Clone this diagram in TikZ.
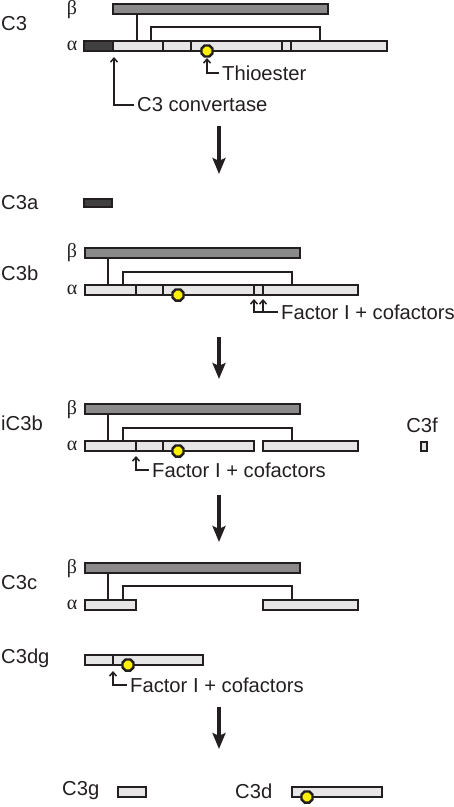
\documentclass[tikz,border=0pt]{standalone}
\usepackage{fontspec}
\setmainfont{Liberation Sans}
\newfontfamily\grkfont{Liberation Serif}
\usetikzlibrary{arrows.meta,shapes.geometric}

\definecolor{ink}{HTML}{231F20}
\definecolor{betagray}{HTML}{8A8A8A}
\definecolor{alphagray}{HTML}{E6E6E6}
\definecolor{cutgray}{HTML}{404040}

\tikzset{
  bbar/.style={draw=ink,line width=2.6pt,fill=betagray},
  abar/.style={draw=ink,line width=2.6pt,fill=alphagray},
  cbar/.style={draw=ink,line width=2.6pt,fill=cutgray},
  link/.style={draw=ink,line width=2.6pt},
  divider/.style={draw=ink,line width=2pt},
  note/.style={draw=ink,line width=1.5pt,-{Straight Barb[length=4pt,width=7pt]}},
  steparrow/.style={draw=ink,line width=3.4pt,-{Stealth[length=16pt,width=13pt,inset=3pt]}},
  thio/.style={regular polygon,regular polygon sides=8,minimum size=12pt,inner sep=0pt,
    draw=ink,line width=2.4pt,fill=yellow},
  lbl/.style={font=\fontsize{20.2}{24}\selectfont,inner sep=0pt,anchor=west,text=ink},
  notelbl/.style={lbl,inner xsep=3pt},
  grk/.style={font=\grkfont\fontsize{20}{23}\selectfont,inner sep=0pt,text=ink}
}

\begin{document}
\begin{tikzpicture}[x=1pt,y=-1pt]
  \useasboundingbox (0,0) rectangle (454,807);

  % C3
  \node[lbl] (c3) at (1,24) {C3};
  \node[grk] (c3beta) at (72,10) {β};
  \node[grk] (c3alpha) at (72,46) {α};
  \draw[link] (137,14) -- (137,41);
  \draw[link] (151,41) -- (151,27) -- (320,27) -- (320,41);
  \draw[bbar] (113,4) rectangle (328,14);
  \draw[abar] (84,41) rectangle (387,51);
  \draw[cbar] (84,41) rectangle (113,51);
  \foreach \x in {163,191,282,291}
    \draw[divider] (\x,41) -- (\x,51);
  \node[thio] (c3dot) at (207,51) {};
  \coordinate (c3tip) at (207,58);
  \node[notelbl] (thioester) at (219,73) {Thioester};
  \draw[note] (thioester.west) -| (c3tip);
  \coordinate (convtip) at (114,57);
  \node[notelbl] (convertase) at (134,105) {C3 convertase};
  \draw[note] (convertase.west) -| (convtip);

  \coordinate (s1a) at (219,126);
  \coordinate (s1b) at (219,174);
  \draw[steparrow] (s1a) -- (s1b);

  % C3a
  \node[lbl] (c3a) at (1,203) {C3a};
  \draw[cbar] (84,199) rectangle (112,207);

  % C3b
  \node[lbl] (c3b) at (1,273) {C3b};
  \node[grk] (c3bbeta) at (72,253) {β};
  \node[grk] (c3balpha) at (72,290) {α};
  \draw[link] (108,258) -- (108,285);
  \draw[link] (123,285) -- (123,272) -- (292,272) -- (292,285);
  \draw[bbar] (85,248) rectangle (300,258);
  \draw[abar] (85,285) rectangle (358,295);
  \foreach \x in {136,163,254,263}
    \draw[divider] (\x,285) -- (\x,295);
  \node[thio] (c3bdot) at (178,295) {};
  \coordinate (c3bt1) at (254,299);
  \coordinate (c3bt2) at (263,299);
  \node[notelbl] (facb) at (278,312) {Factor I + cofactors};
  \draw[note] (facb.west) -| (c3bt2);
  \draw[note] (c3bt2 |- facb.west) -| (c3bt1);

  \coordinate (s2a) at (219,337);
  \coordinate (s2b) at (219,379);
  \draw[steparrow] (s2a) -- (s2b);

  % iC3b
  \node[lbl] (ic3b) at (1,423) {iC3b};
  \node[grk] (ic3bbeta) at (72,410) {β};
  \node[grk] (ic3balpha) at (72,446) {α};
  \draw[link] (108,414) -- (108,441);
  \draw[link] (123,441) -- (123,428) -- (292,428) -- (292,441);
  \draw[bbar] (85,404) rectangle (300,414);
  \draw[abar] (85,441) rectangle (254,451);
  \draw[abar] (263,441) rectangle (358,451);
  \foreach \x in {136,163}
    \draw[divider] (\x,441) -- (\x,451);
  \node[thio] (ic3bdot) at (178,451) {};
  \coordinate (ic3btip) at (136,456);
  \node[notelbl] (faci) at (149,470) {Factor I + cofactors};
  \draw[note] (faci.west) -| (ic3btip);

  % C3f
  \node[lbl,anchor=center] (c3f) at (422,425) {C3f};
  \draw[abar] (421,442) rectangle (427,451);

  \coordinate (s3a) at (219,495);
  \coordinate (s3b) at (219,542);
  \draw[steparrow] (s3a) -- (s3b);

  % C3c
  \node[lbl] (c3c) at (1,583) {C3c};
  \node[grk] (c3cbeta) at (72,569) {β};
  \node[grk] (c3calpha) at (72,605) {α};
  \draw[link] (108,573) -- (108,600);
  \draw[link] (123,600) -- (123,586) -- (292,586) -- (292,600);
  \draw[bbar] (85,563) rectangle (300,573);
  \draw[abar] (85,600) rectangle (136,610);
  \draw[abar] (263,600) rectangle (358,610);

  % C3dg
  \node[lbl] (c3dg) at (1,658) {C3dg};
  \draw[abar] (85,655) rectangle (203,665);
  \draw[divider] (113,655) -- (113,665);
  \node[thio] (c3dgdot) at (128,665) {};
  \coordinate (c3dgtip) at (113,671);
  \node[notelbl] (facdg) at (127,685) {Factor I + cofactors};
  \draw[note] (facdg.west) -| (c3dgtip);

  \coordinate (s4a) at (219,707);
  \coordinate (s4b) at (219,749);
  \draw[steparrow] (s4a) -- (s4b);

  % C3g and C3d
  \node[lbl] (c3g) at (62,791) {C3g};
  \draw[abar] (118,787) rectangle (146,797);
  \node[lbl] (c3d) at (235,791) {C3d};
  \draw[abar] (292,787) rectangle (382,797);
  \node[thio] (c3ddot) at (307,797) {};
\end{tikzpicture}
\end{document}
